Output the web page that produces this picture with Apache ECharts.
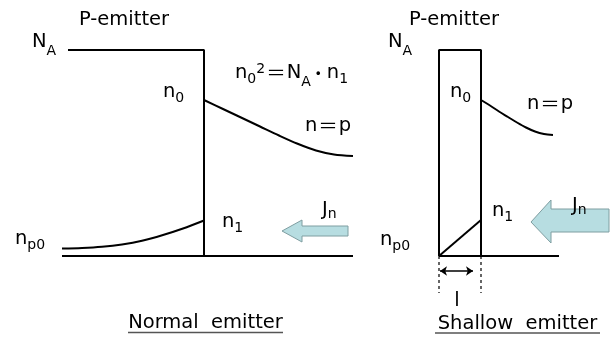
<!DOCTYPE html>
<html>
<head>
<meta charset="utf-8">
<script src="https://cdn.jsdelivr.net/npm/echarts@6/dist/echarts.min.js"></script>
<style>
  html, body { margin: 0; padding: 0; background: #fff; }
  #chart { width: 611px; height: 338px; }
</style>
</head>
<body>
<div id="chart"></div>
<script>
// Diagram frame: x runs left to right, y runs top to bottom (0..338).

// ---- Normal emitter ----
const normalDoping = [[68, 50], [204, 50], [204, 256]];
const normalBase = [[62, 256], [353, 256]];
const normalMinority = [[62, 248.5], [82, 248], [102, 246.8], [122, 244.5], [142, 240.8], [163, 235], [183, 228.5], [204, 220.5]];
const normalCarrier = [[204, 100], [223, 109], [241, 117.5], [260, 126.5], [279, 135.5], [297, 143.5], [316, 150.5], [334, 154.5], [353, 156]];
const normalCurrentArrow = [[282, 231], [302, 220], [302, 226], [348, 226], [348, 236], [302, 236], [302, 242]];

// ---- Shallow emitter ----
const shallowDoping = [[439, 256], [439, 50], [481, 50], [481, 256]];
const shallowBase = [[439, 256], [559, 256]];
const shallowMinority = [[439, 256], [481, 220]];
const shallowCarrier = [[481, 100], [490, 105.5], [499, 111.5], [508, 117], [517, 122.5], [526, 127.5], [535, 131.5], [544, 134], [553, 135]];
const shallowCurrentArrow = [[531, 222], [551, 200], [551, 209], [609, 209], [609, 232], [551, 232], [551, 243]];
const widthMarkerLeft = [[439, 256], [439, 293]];
const widthMarkerRight = [[481, 256], [481, 293]];
const widthSpan = [[440, 271], [473, 271]];

// ---- Text: [x, y, rich text, align] ----
const textLabels = [
  [124, 20, 'P-emitter', 'center'],
  [32, 42, '{m|N}{sA|A}', 'left'],
  [163, 92, '{m|n}{s|0}', 'left'],
  [222, 222, '{m|n}{s|1}', 'left'],
  [15, 239, '{m|n}{s|p0}', 'left'],
  [322, 210, '{m|J}{sJ|n}', 'left'],
  [305, 126, '{m|n}{jp|＝}{m|p}', 'left'],
  [235, 73, '{m|n}{s|0}{sup|2}{jp|＝}{m|N}{sA|A}{dot|･}{m|n}{s|1}', 'left'],
  [205.5, 323, 'Normal  emitter', 'center'],
  [454, 20, 'P-emitter', 'center'],
  [388, 42, '{m|N}{sA|A}', 'left'],
  [450, 92, '{m|n}{s|0}', 'left'],
  [527, 104, '{m|n}{jp|＝}{m|p}', 'left'],
  [492, 211, '{m|n}{s|1}', 'left'],
  [572, 206, '{m|J}{sJ|n}', 'left'],
  [380, 240, '{m|n}{s|p0}', 'left'],
  [457, 301, 'l', 'center'],
  [517.5, 324, 'Shallow  emitter', 'center']
];

// Caption underlines: [xStart, xEnd, y]
const captionUnderlines = [[128, 283, 332.5], [435, 600, 333]];

const FONT = 'DejaVu Sans';
const MAIN = 19.5;
const SMALL = 14;
const rich = {
  m: { fontFamily: FONT, fontSize: MAIN, color: '#000' },
  s: { fontFamily: FONT, fontSize: SMALL, color: '#000', padding: [12, 0, 0, 0] },
  sA: { fontFamily: FONT, fontSize: SMALL, color: '#000', padding: [19, 0, 0, 0] },
  sJ: { fontFamily: FONT, fontSize: SMALL, color: '#000', padding: [8, 0, 0, 0] },
  sup: { fontFamily: FONT, fontSize: SMALL, color: '#000', padding: [0, 0, 8, 0] },
  jp: { fontFamily: 'Noto Sans CJK JP', fontSize: MAIN, color: '#000', padding: [0, 1, 0, 1] },
  dot: { fontFamily: 'Noto Sans CJK JP', fontSize: 22, color: '#000', padding: [0, 3, 0, 2] }
};

function curve(data) {
  return {
    type: 'line', data: data, showSymbol: false, symbol: 'none', smooth: 0.3,
    lineStyle: { color: '#000', width: 2 }, silent: true
  };
}
function straight(data, width, type) {
  return {
    type: 'line', data: data, showSymbol: false, symbol: 'none',
    lineStyle: { color: '#000', width: width || 2, type: type || 'solid' }, silent: true
  };
}
function arrowPolygon(points) {
  return {
    type: 'custom', data: points, silent: true,
    renderItem: function (params, api) {
      if (params.dataIndex !== 0) return null;
      return {
        type: 'polygon',
        shape: { points: points.map(function (p) { return api.coord(p); }) },
        style: { fill: '#b7dde1', stroke: '#7f9ea1', lineWidth: 1 }
      };
    }
  };
}

const chart = echarts.init(document.getElementById('chart'), null, { renderer: 'canvas' });
chart.setOption({
  animation: false,
  backgroundColor: '#fff',
  grid: { left: 0, right: 0, top: 0, bottom: 0 },
  xAxis: { type: 'value', min: 0, max: 611, show: false },
  yAxis: { type: 'value', min: 0, max: 338, inverse: true, show: false },
  series: [
    straight(normalDoping),
    straight(normalBase),
    curve(normalMinority),
    curve(normalCarrier),
    arrowPolygon(normalCurrentArrow),
    straight(shallowDoping),
    straight(shallowBase),
    straight(shallowMinority, 2),
    curve(shallowCarrier),
    arrowPolygon(shallowCurrentArrow),
    straight(widthMarkerLeft, 1.2, [3, 3]),
    straight(widthMarkerRight, 1.2, [3, 3]),
    {
      type: 'lines', coordinateSystem: 'cartesian2d', silent: true,
      symbol: ['arrow', 'arrow'], symbolSize: [7, 7],
      lineStyle: { color: '#000', width: 1.5, opacity: 1 },
      data: [{ coords: widthSpan }]
    },
    {
      type: 'custom', data: captionUnderlines, silent: true,
      renderItem: function (params, api) {
        const a = api.coord([api.value(0), api.value(2)]);
        const b = api.coord([api.value(1), api.value(2)]);
        return {
          type: 'line',
          shape: { x1: a[0], y1: a[1], x2: b[0], y2: b[1] },
          style: { stroke: '#555', lineWidth: 1.5 }
        };
      }
    },
    {
      type: 'custom', data: textLabels.map(function (t) { return [t[0], t[1]]; }), silent: true,
      renderItem: function (params, api) {
        const t = textLabels[params.dataIndex];
        const p = api.coord([t[0], t[1]]);
        return {
          type: 'text', x: p[0], y: p[1],
          style: {
            text: t[2], rich: rich, fontFamily: FONT, fontSize: MAIN, fill: '#000',
            align: t[3], verticalAlign: 'middle'
          }
        };
      }
    }
  ]
});
</script>
</body>
</html>
